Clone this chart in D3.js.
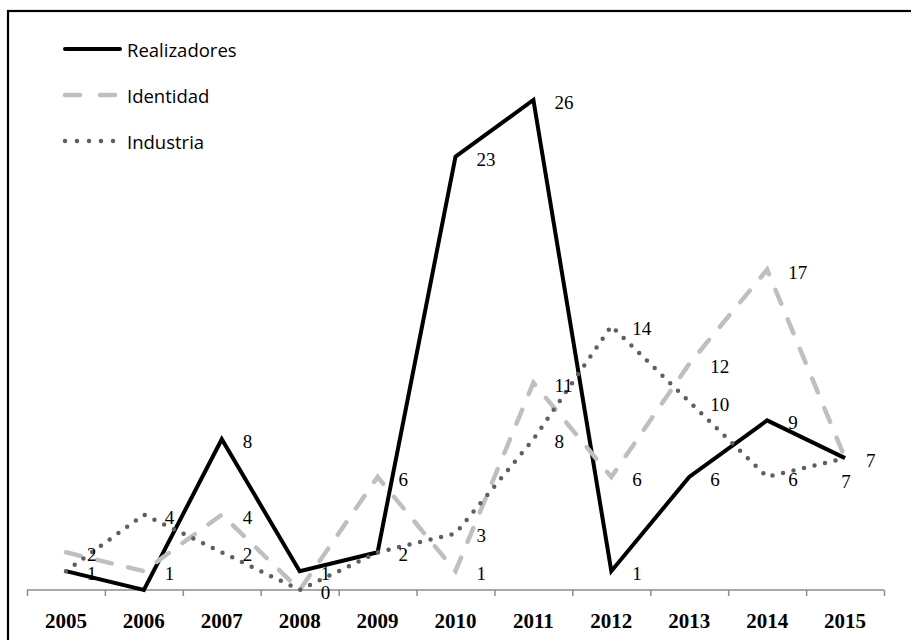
<!DOCTYPE html>
<html><head><meta charset="utf-8">
<script src="https://cdn.jsdelivr.net/npm/d3@7"></script>
<style>html,body{margin:0;padding:0;background:#fff;}svg{display:block;}</style>
</head><body>
<svg id="chart" width="911" height="640"></svg>
<script>
const years = ["2005","2006","2007","2008","2009","2010","2011","2012","2013","2014","2015"];
const realizadores = [1,0,8,1,2,23,26,1,6,9,7];
const identidad   = [2,1,4,0,6,1,11,6,12,17,7];
const industria   = [1,4,2,0,2,3,8,14,10,6,7];
const seriesNames = ["Realizadores","Identidad","Industria"];

// labels that were dropped because of overlaps, and one moved below its point
const hiddenLabels = [["Realizadores","2006"],["Industria","2008"],["Industria","2009"],["Identidad","2015"],["Industria","2005"]];
const belowLabels = [["Industria","2015"]];

const svg = d3.select("#chart");
const W = 911, H = 640;

// frame
svg.append("rect").attr("x",8).attr("y",11).attr("width",W+20).attr("height",H+20)
  .attr("fill","none").attr("stroke","#000").attr("stroke-width",2.2);

const x = d3.scaleBand().domain(years).range([27, 884]).padding(0);
const y = d3.scaleLinear().domain([0, 26]).range([590, 100]);
const xi = d3.scaleLinear().domain([0, years.length]).range([27, 884]);

// axis: boundary ticks
const gAxis = svg.append("g").attr("transform","translate(0,590)");
gAxis.call(d3.axisBottom(xi).tickValues(d3.range(0, years.length+1)).tickSize(6).tickFormat(""));
gAxis.select(".domain").attr("stroke","#8c8c8c").attr("stroke-width",1.5).attr("d","M27,0H884");
gAxis.selectAll(".tick line").attr("stroke","#8c8c8c").attr("stroke-width",1.5);

const gLab = svg.append("g").attr("transform","translate(0,590)");
gLab.call(d3.axisBottom(x).tickSize(0).tickPadding(23));
gLab.select(".domain").remove();
gLab.selectAll(".tick text").attr("font-family","'Liberation Serif', serif")
  .attr("font-weight","bold").attr("font-size","21px").attr("fill","#000");

const styles = {
  Realizadores: {stroke:"#000", width:4, dash:null, cap:"butt"},
  Identidad: {stroke:"#bfbfbf", width:4.5, dash:"15,17", cap:"round"},
  Industria: {stroke:"#5f5f5f", width:4.5, dash:"0,10.8", cap:"round"}
};
const dataBy = {Realizadores: realizadores, Identidad: identidad, Industria: industria};

const line = d3.line().x((d,i)=>x(years[i])+x.bandwidth()/2).y(d=>y(d));

seriesNames.forEach(name=>{
  const s = styles[name];
  svg.append("path").datum(dataBy[name]).attr("d", line)
    .attr("fill","none").attr("stroke", s.stroke).attr("stroke-width", s.width)
    .attr("stroke-linejoin","miter").attr("stroke-linecap", s.cap)
    .attr("stroke-dasharray", s.dash);
});

// data labels
const isIn = (arr, n, yr) => arr.some(a=>a[0]===n && a[1]===yr);
const gDL = svg.append("g").attr("font-family","'Liberation Serif', serif").attr("font-size","19px").attr("fill","#000");
seriesNames.forEach(name=>{
  dataBy[name].forEach((v,i)=>{
    const yr = years[i];
    if (isIn(hiddenLabels, name, yr)) return;
    const cx = x(yr)+x.bandwidth()/2, cy = y(v);
    if (isIn(belowLabels, name, yr)) {
      gDL.append("text").attr("x", cx+1).attr("y", cy+30).attr("text-anchor","middle").text(v);
    } else {
      gDL.append("text").attr("x", cx+21).attr("y", cy+9).text(v);
    }
  });
});

// legend
const lg = svg.append("g");
seriesNames.forEach((name,i)=>{
  const s = styles[name];
  const ly = 49 + i*46;
  lg.append("line").attr("x1",65).attr("x2", 120).attr("y1",ly).attr("y2",ly)
    .attr("stroke", s.stroke).attr("stroke-width", s.width).attr("stroke-linecap", name==="Realizadores"?"round":s.cap)
    .attr("stroke-dasharray", name==="Identidad" ? "15,20" : (name==="Industria" ? "0,12" : null));
  lg.append("text").attr("x",127).attr("y",ly+8).attr("font-family","'Open Sans', sans-serif")
    .attr("font-size","18.5px").attr("fill","#000").text(name);
});
</script>
</body></html>
